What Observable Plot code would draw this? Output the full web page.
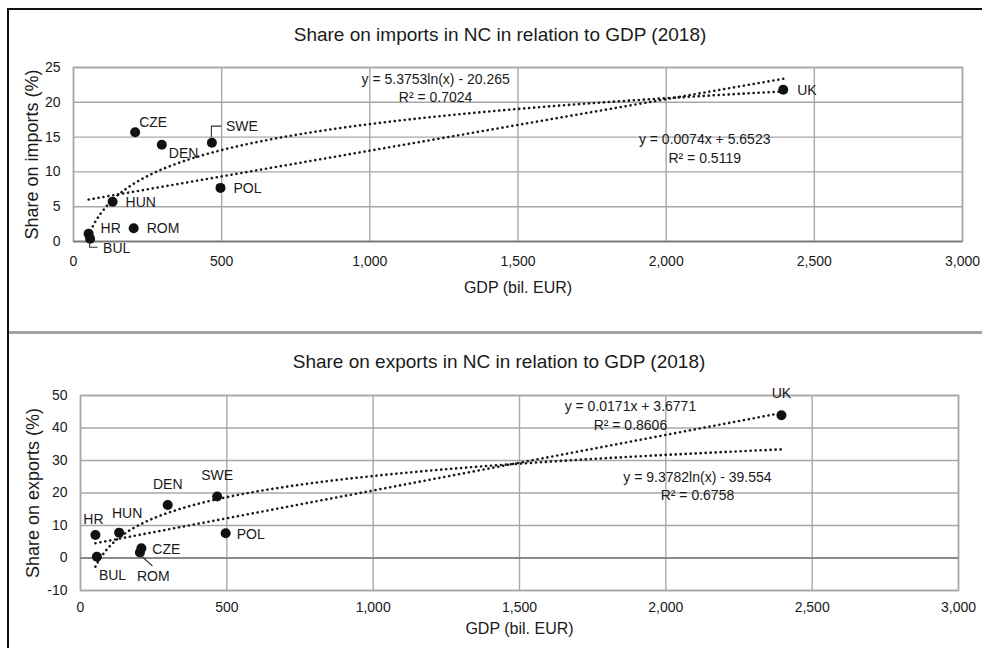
<!DOCTYPE html>
<html>
<head>
<meta charset="utf-8">
<script src="https://cdn.jsdelivr.net/npm/d3@7"></script>
<script src="https://cdn.jsdelivr.net/npm/@observablehq/plot@0.6"></script>
<style>
  html, body { margin: 0; padding: 0; background: #fff; }
  #page { position: relative; width: 982px; height: 648px; overflow: hidden; font-family: "Liberation Sans", Arial, sans-serif; color: #1a1a1a; }
  .frame { position: absolute; left: 7px; top: 8px; width: 980px; height: 660px; border-left: 2px solid #111; border-top: 2px solid #111; }
  .sep { position: absolute; left: 9px; top: 331px; width: 973px; height: 3px; background: #a3a3a3; }
  .title { position: absolute; white-space: nowrap; font-size: 19px; line-height: 22px; transform: translateX(-50%); }
  .chart { position: absolute; left: 0; }
  svg { overflow: visible; }
</style>
</head>
<body>
<div id="page">
  <div class="frame"></div>
  <div class="sep"></div>
  <div class="title" id="t1" style="left:500px; top:24px;"></div>
  <div class="title" id="t2" style="left:499px; top:351px;"></div>
  <div class="chart" id="c1" style="top:0px;"></div>
  <div class="chart" id="c2" style="top:333px;"></div>
</div>
<script>
// ---------- data ----------
const countries    = ["HR", "BUL", "HUN", "ROM", "CZE", "DEN", "SWE", "POL", "UK"];
const gdp          = [51, 56, 132, 203, 208, 298, 467, 496, 2395];
const shareImports = [1.1, 0.4, 5.7, 1.9, 15.7, 13.9, 14.2, 7.7, 21.8];
const shareExports = [7.1, 0.4, 7.8, 1.7, 3.0, 16.3, 18.9, 7.6, 43.9];

const xTicks       = [0, 500, 1000, 1500, 2000, 2500, 3000];
const yTicksImp    = [0, 5, 10, 15, 20, 25];
const yTicksExp    = [-10, 0, 10, 20, 30, 40, 50];

// trendline coefficients as printed on the chart
const importsLinear = [0.0074, 5.6523];  // y = a*x + b
const importsLog    = [5.3753, -20.265]; // y = a*ln(x) + b
const exportsLinear = [0.0171, 3.6771];
const exportsLog    = [9.3782, -39.554];
const importsLinearText = ["y = 0.0074x + 5.6523", "R² = 0.5119"];
const importsLogText    = ["y = 5.3753ln(x) - 20.265", "R² = 0.7024"];
const exportsLinearText = ["y = 0.0171x + 3.6771", "R² = 0.8606"];
const exportsLogText    = ["y = 9.3782ln(x) - 39.554", "R² = 0.6758"];

const titleImports = "Share on imports in NC in relation to GDP (2018)";
const titleExports = "Share on exports in NC in relation to GDP (2018)";
const xLabel = "GDP (bil. EUR)";
const yLabelImports = "Share on imports (%)";
const yLabelExports = "Share on exports (%)";

// ---------- styling / placement (not data) ----------
const INK = "#1a1a1a";
const GRID = "#a8a8a8";
const FONT = "Liberation Sans, Arial, sans-serif";

const importLabelPlace = {
  CZE: {dx: 4, dy: -10, a: "start"}, DEN: {dx: 7, dy: 9, a: "start"},
  SWE: {dx: 14, dy: -16, a: "start"}, HUN: {dx: 13, dy: 1, a: "start"},
  POL: {dx: 13, dy: 1, a: "start"}, ROM: {dx: 13, dy: 0, a: "start"},
  HR: {dx: 12, dy: -5, a: "start"}, BUL: {dx: 13, dy: 10, a: "start"},
  UK: {dx: 14, dy: 1, a: "start"}
};
const exportLabelPlace = {
  UK: {dx: 0, dy: -22, a: "middle"}, SWE: {dx: 0, dy: -21, a: "middle"},
  DEN: {dx: 0, dy: -21, a: "middle"}, HR: {dx: -2, dy: -15, a: "middle"},
  HUN: {dx: 8, dy: -19, a: "middle"}, POL: {dx: 11, dy: 1, a: "start"},
  CZE: {dx: 11, dy: 1, a: "start"}, ROM: {dx: -3, dy: 24, a: "start"},
  BUL: {dx: 2, dy: 19, a: "start"}
};
// equation label anchors, in data units
const importsEqAnchor = {log: [1222, 22.2], lin: [2130, 13.5]};
const exportsEqAnchor = {lin: [1879, 44.2], log: [2108, 22.4]};

// ---------- build ----------
const importsData = countries.map((c, i) => ({country: c, gdp: gdp[i], share: shareImports[i]}));
const exportsData = countries.map((c, i) => ({country: c, gdp: gdp[i], share: shareExports[i]}));

function trend(data, coef, kind) {
  const [lo, hi] = d3.extent(data, d => d.gdp);
  const n = 240;
  const xs = d3.range(n + 1).map(i => Math.exp(Math.log(lo) + (Math.log(hi) - Math.log(lo)) * i / n));
  return xs.map(x => ({gdp: x, share: kind === "lin" ? coef[0] * x + coef[1] : coef[0] * Math.log(x) + coef[1]}));
}

function chart(opts) {
  const {data, yDomain, yTicks, yLabel, lin, log, linText, logText, eqAnchor, place,
         height, mt, mb, ml, mr, xPad, yLabelDx, xLabelDy} = opts;
  const dotted = {x: "gdp", y: "share", stroke: INK, strokeWidth: 2.6, strokeDasharray: "0.1 4.9", strokeLinecap: "round"};
  const labelMarks = countries.map(c => {
    const p = place[c];
    return Plot.text(data.filter(d => d.country === c), {x: "gdp", y: "share", text: "country",
      dx: p.dx, dy: p.dy, textAnchor: p.a, fontSize: 14, fill: INK});
  });
  const eqMarks = [
    Plot.text([linText.join("\n")], {x: eqAnchor.lin[0], y: eqAnchor.lin[1], text: d => d, lineHeight: 1.33, fontSize: 14, fill: INK}),
    Plot.text([logText.join("\n")], {x: eqAnchor.log[0], y: eqAnchor.log[1], text: d => d, lineHeight: 1.33, fontSize: 14, fill: INK})
  ];
  const plot = Plot.plot({
    width: 982, height, marginTop: mt, marginBottom: mb, marginLeft: ml, marginRight: mr,
    style: {fontFamily: FONT, fontSize: "14px", color: INK, background: "transparent", overflow: "visible"},
    x: {domain: [0, 3000]},
    y: {domain: yDomain},
    marks: [
      Plot.gridX(xTicks, {stroke: GRID, strokeOpacity: 1, strokeWidth: 1.4}),
      Plot.gridY(yTicks, {stroke: GRID, strokeOpacity: 1, strokeWidth: 1.4}),
      Plot.frame({stroke: GRID, strokeWidth: 1.6}),
      Plot.ruleY([0], {stroke: "#7a7a7a", strokeWidth: 1.6}),
      Plot.axisX(xTicks, {tickSize: 0, tickPadding: xPad, tickFormat: d3.format(","), fontSize: 14, fill: INK, label: null}),
      Plot.axisY(yTicks, {tickSize: 0, tickPadding: 13, tickFormat: d => String(d), fontSize: 14, fill: INK, label: null}),
      Plot.text([xLabel], {frameAnchor: "bottom", dy: xLabelDy, text: d => d, fontSize: 16, fill: INK, textAnchor: "middle"}),
      Plot.text([yLabel], {frameAnchor: "left", dx: yLabelDx, rotate: -90, text: d => d, fontSize: 18, fill: INK, textAnchor: "middle", lineAnchor: "middle"}),
      Plot.line(trend(data, lin, "lin"), dotted),
      Plot.line(trend(data, log, "log"), dotted),
      Plot.dot(data, {x: "gdp", y: "share", r: 5, fill: "#111", stroke: "none"}),
      ...eqMarks,
      ...labelMarks
    ]
  });
  return plot;
}

function leader(plot, datum, pathFn) {
  const sx = plot.scale("x"), sy = plot.scale("y");
  const px = sx.apply(datum.gdp), py = sy.apply(datum.share);
  d3.select(plot).append("path").attr("d", pathFn(px, py))
    .attr("fill", "none").attr("stroke", "#333").attr("stroke-width", 1.1);
}

document.getElementById("t1").textContent = titleImports;
document.getElementById("t2").textContent = titleExports;

const p1 = chart({data: importsData, yDomain: [0, 25], yTicks: yTicksImp, yLabel: yLabelImports,
  lin: importsLinear, log: importsLog, linText: importsLinearText, logText: importsLogText,
  eqAnchor: importsEqAnchor, place: importLabelPlace,
  height: 333, mt: 67, mb: 92, ml: 73, mr: 20, xPad: 15, yLabelDx: -41, xLabelDy: 51});
const p2 = chart({data: exportsData, yDomain: [-10, 50], yTicks: yTicksExp, yLabel: yLabelExports,
  lin: exportsLinear, log: exportsLog, linText: exportsLinearText, logText: exportsLogText,
  eqAnchor: exportsEqAnchor, place: exportLabelPlace,
  height: 315, mt: 62, mb: 58, ml: 80, mr: 24, xPad: 12, yLabelDx: -47, xLabelDy: 43});

document.getElementById("c1").appendChild(p1);
document.getElementById("c2").appendChild(p2);

const byC = (arr, c) => arr.find(d => d.country === c);
leader(p1, byC(importsData, "SWE"), (x, y) => `M${x},${y - 5}V${y - 16}H${x + 10}`);
leader(p1, byC(importsData, "BUL"), (x, y) => `M${x},${y + 3}V${y + 9}H${x + 8}`);
leader(p2, byC(exportsData, "ROM"), (x, y) => `M${x + 1},${y + 3}L${x + 13},${y + 14}`);
</script>
</body>
</html>
